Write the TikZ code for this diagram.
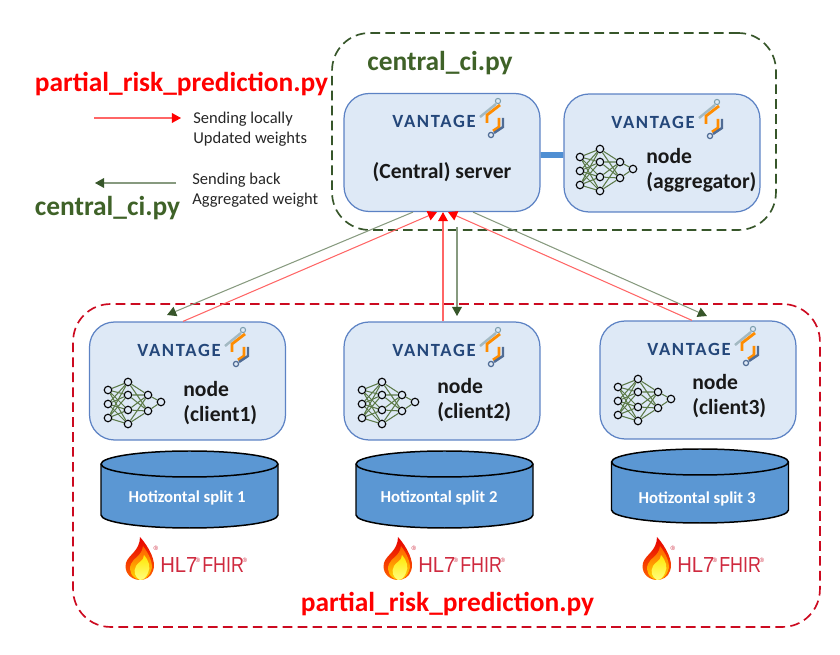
\documentclass[tikz,border=0pt]{standalone}
\usepackage{fontspec}
\setmainfont{Carlito}
\newfontfamily\hlfont{Liberation Sans}
\usetikzlibrary{arrows.meta}

\definecolor{cardfill}{HTML}{DEE9F6}
\definecolor{cardline}{HTML}{5C82C4}
\definecolor{barblue}{HTML}{4F8FD3}
\definecolor{diskblue}{HTML}{5B97D3}
\definecolor{framegreen}{HTML}{37562A}
\definecolor{framered}{HTML}{CC0A20}
\definecolor{txtgreen}{HTML}{3F6228}
\definecolor{vannavy}{HTML}{24477A}
\definecolor{hlred}{HTML}{CF2A3F}

\tikzset{
	card/.style={draw=cardline,fill=cardfill,line width=0.7pt,rounded corners=0.5cm,minimum width=3.92cm,minimum height=2.36cm,inner sep=0pt},
	frame/.style={line width=0.95pt,dash pattern=on 5.5pt off 3pt,rounded corners=0.75cm,inner sep=0pt},
	disk/.style={draw=black,line width=0.85pt},
	disktxt/.style={text=white,inner sep=0pt,font=\bfseries\fontsize{9.5}{10}\selectfont},
	pyname/.style={font=\bfseries\fontsize{15.6}{17}\selectfont,inner sep=0pt},
	legendtxt/.style={font=\fontsize{9.4}{11.4}\selectfont,align=left,anchor=west,inner sep=0pt,text=black!85},
	nodetxt/.style={font=\bfseries\fontsize{12.3}{14.2}\selectfont,align=left,anchor=west,inner sep=0pt,text=black!90},
	sendup/.style={draw=red!60!white,line width=0.6pt,-{Triangle[length=5.2pt,width=5.6pt,fill=red,color=red]}},
	senddown/.style={draw=framegreen!60!white,line width=0.6pt,-{Triangle[length=5.2pt,width=5.6pt,fill=framegreen,color=framegreen]}},
	netdot/.style={circle,draw=black,fill=cardfill,line width=0.65pt,minimum size=0.15cm,inner sep=0pt},
	netedge/.style={draw=txtgreen!85!white,line width=0.6pt},
	vantxt/.style={font=\bfseries\fontsize{10.6}{11}\selectfont\addfontfeature{LetterSpace=9},text=vannavy,inner sep=0pt,anchor=base west},
	hltxt/.style={font=\hlfont\fontsize{12.4}{14}\selectfont,text=hlred,inner sep=0pt,anchor=base west},
	hlmark/.style={font=\hlfont\fontsize{3.5}{4}\selectfont,text=hlred,inner sep=0pt}
}

% disk: first argument is the centre of its top, second the length of its body
\newcommand{\diskshape}[2]{
	\begin{scope}[shift={#1}]
		\draw [disk,fill=diskblue] (-88.5,0) -- (-88.5,#2) arc (180:0:88.5 and 13) -- (88.5,0) arc (0:-180:88.5 and 13) -- cycle;
		\draw [disk] (-88.5,0) arc (180:0:88.5 and 13);
	\end{scope}
}

% logo: first argument is the point where the word starts, on its baseline
\newcommand{\vantagelogo}[1]{
	\begin{scope}[shift={#1}]
		\node[vantxt] (word) at (0,0) {VANTAGE};
		\draw [cyan!25!gray!70,line width=1.4pt] (88,-11) -- (104,-24);
		\draw [gray!70!cyan,line width=0.6pt,fill=cardfill] (106,-27) circle (2.6);
		\draw [orange!90!yellow,line width=1.6pt] (108,-23) -- (95,-13) -- (95,-5);
		\draw [orange!90!yellow,line width=1.6pt] (107,-10) -- (107,-1) -- (101,3);
		\draw [vannavy!80!white,line width=1.4pt] (111,-10) -- (111,-1) -- (102,5);
		\draw [vannavy!80!white,line width=0.7pt,fill=cardfill] (99,7) circle (2.6);
	\end{scope}
}

% small network: first argument is the middle dot of the left column
\newcommand{\netpicture}[1]{
	\begin{scope}[shift={#1}]
		\node[netdot] (a1) at (0,-14) {};
		\node[netdot] (a2) at (0,0) {};
		\node[netdot] (a3) at (0,14) {};
		\node[netdot] (b1) at (20,-22) {};
		\node[netdot] (b2) at (20,-9) {};
		\node[netdot] (b3) at (20,6) {};
		\node[netdot] (b4) at (20,20) {};
		\node[netdot] (c1) at (40,-9) {};
		\node[netdot] (c2) at (40,7) {};
		\node[netdot] (d1) at (53,-2) {};
		\draw [netedge] (a1) -- (b1) (a1) -- (b2) (a1) -- (b3) (a1) -- (b4);
		\draw [netedge] (a2) -- (b1) (a2) -- (b2) (a2) -- (b3) (a2) -- (b4);
		\draw [netedge] (a3) -- (b1) (a3) -- (b2) (a3) -- (b3) (a3) -- (b4);
		\draw [netedge] (b1) -- (c1) (b1) -- (c2) (b2) -- (c1) (b2) -- (c2);
		\draw [netedge] (b3) -- (c1) (b3) -- (c2) (b4) -- (c1) (b4) -- (c2);
		\draw [netedge] (c1) -- (d1) (c2) -- (d1);
	\end{scope}
}

% flame and wordmark: first argument is the top left corner of the flame
\newcommand{\fhirlogo}[1]{
	\begin{scope}[shift={#1}]
		\shade [top color=red!90!black,bottom color=orange!80!red] (14,43) .. controls (4,42) and (-1,34) .. (1,26) .. controls (3,18) and (15,14) .. (15,0) .. controls (24,10) and (32,25) .. (28,34) .. controls (26,40) and (21,43) .. (14,43);
		\shade [top color=orange!70!red,bottom color=yellow!70!orange] (15,43) .. controls (7,41) and (3,34) .. (6,27) .. controls (8,21) and (17,19) .. (18,9) .. controls (24,17) and (29,27) .. (26,34) .. controls (24,39) and (20,43) .. (15,43);
		\shade [top color=yellow!80!orange,bottom color=yellow!50!white] (15,43) .. controls (10,40) and (8,35) .. (11,29) .. controls (13,25) and (19,24) .. (19,18) .. controls (24,24) and (26,30) .. (23,36) .. controls (21,40) and (19,43) .. (15,43);
		\node[hltxt,xscale=0.93] (hl) at (35,36) {HL7};
		\node[hlmark] (hlr) at (73,23) {®};
		\node[hltxt,xscale=0.82] (fhir) at (77,36) {FHIR};
		\node[hlmark] (fhirr) at (120,23) {®};
		\node[hlmark] (flamer) at (31,11) {®};
	\end{scope}
}

\begin{document}
\begin{tikzpicture}[x=0.02cm,y=-0.02cm]
	\useasboundingbox (0,0) rectangle (840,655);
	% dashed groups
	\node[frame,draw=framegreen,minimum width=8.88cm,minimum height=3.94cm] (centralgroup) at (554,131.5) {};
	\node[frame,draw=framered,minimum width=14.94cm,minimum height=6.46cm] (clientgroup) at (446.5,465.5) {};
	\node[pyname,text=txtgreen] (centralname) at (440,63) {central\_ci.py};
	\node[pyname,text=red] (clientname) at (447.5,604) {partial\_risk\_prediction.py};
	% legend
	\node[pyname,text=red] (legendred) at (181.5,84) {partial\_risk\_prediction.py};
	\node[pyname,text=txtgreen] (legendgreen) at (107.5,208) {central\_ci.py};
	\coordinate (upstart) at (94,118);
	\coordinate (upend) at (181,118);
	\coordinate (downstart) at (176,183);
	\coordinate (downend) at (95,183);
	\draw [sendup] (upstart) -- (upend);
	\draw [senddown] (downstart) -- (downend);
	\node[legendtxt] (uptxt) at (193,129) {Sending locally\\Updated weights};
	\node[legendtxt] (downtxt) at (192,190) {Sending back\\Aggregated weight};
	% boxes
	\node[card] (central) at (442,152.5) {};
	\node[card] (aggregator) at (662,153) {};
	\node[card] (client1) at (187.5,381) {};
	\node[card] (client2) at (442,381) {};
	\node[card] (client3) at (698,380) {};
	\draw [barblue,line width=3.4pt] ([yshift=-0.05cm]central.east) -- ([yshift=-0.04cm]aggregator.west);
	% logos
	\vantagelogo{(392,128)}
	\vantagelogo{(611,129)}
	\vantagelogo{(137,357)}
	\vantagelogo{(392,357)}
	\vantagelogo{(647,356)}
	% networks
	\netpicture{(580,171)}
	\netpicture{(108,404)}
	\netpicture{(362,404)}
	\netpicture{(618,401)}
	% texts of the boxes
	\node[font=\bfseries\fontsize{12.3}{14}\selectfont,inner sep=0pt,text=black!90] (centraltxt) at (442,172) {(Central) server};
	\node[nodetxt] (aggtxt) at (646,170) {node\\(aggregator)};
	\node[nodetxt] (c1txt) at (183,403) {node\\(client1)};
	\node[nodetxt] (c2txt) at (437,400) {node\\(client2)};
	\node[nodetxt] (c3txt) at (692,396) {node\\(client3)};
	% disks
	\diskshape{(189.5,464)}{51}
	\diskshape{(444.5,464)}{51}
	\diskshape{(700,462)}{48}
	\node[disktxt] (split1) at (187,498) {Hotizontal split 1};
	\node[disktxt] (split2) at (439,498) {Hotizontal split 2};
	\node[disktxt] (split3) at (697,499) {Hotizontal split 3};
	\fhirlogo{(125,537)}
	\fhirlogo{(383,537)}
	\fhirlogo{(642,537)}
	% connectors
	\coordinate (toclient1) at (167,315);
	\coordinate (toclient3) at (707,316);
	\coordinate (downfrom) at (457,227);
	\coordinate (toclient2) at (457,316);
	\draw [senddown] ([xshift=-0.58cm]central.south) -- (toclient1);
	\draw [senddown] ([xshift=0.62cm]central.south) -- (toclient3);
	\draw [senddown] (downfrom) -- (toclient2);
	\draw [sendup] ([xshift=-0.09cm]client1.north) -- ([xshift=-0.1cm]central.south);
	\draw [sendup] ([xshift=0.02cm]client2.north) -- ([xshift=0.02cm]central.south);
	\draw [sendup] ([xshift=-0.12cm]client3.north) -- ([xshift=0.12cm]central.south);
\end{tikzpicture}
\end{document}
